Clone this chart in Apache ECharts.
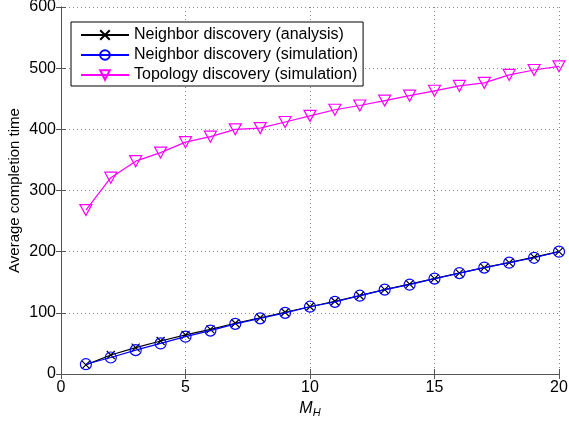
<!DOCTYPE html>
<html>
<head>
<meta charset="utf-8">
<script src="https://cdn.jsdelivr.net/npm/echarts@6/dist/echarts.min.js"></script>
<style>
  html, body { margin: 0; padding: 0; background: #fff; }
  #chart { width: 569px; height: 424px; }
</style>
</head>
<body>
<div id="chart"></div>
<script>
// 数据
var xValues = [1, 2, 3, 4, 5, 6, 7, 8, 9, 10, 11, 12, 13, 14, 15, 16, 17, 18, 19, 20];
var analysisValues = [15, 31, 43, 54, 64, 73, 83, 92, 101, 110, 119, 128, 138, 147, 156, 165, 174, 182, 191, 200];
var simulationValues = [16, 27, 39, 50, 61, 71, 82, 91, 100, 110, 118, 128, 138, 146, 156, 165, 174, 182, 190, 200];
var topologyValues = [268, 321, 348, 362, 379, 388, 400, 402, 412, 422, 432, 439, 447, 455, 463, 471, 476, 489, 497, 503];
var seriesNames = ['Neighbor discovery (analysis)', 'Neighbor discovery (simulation)', 'Topology discovery (simulation)'];

function pairs(vals) {
    return xValues.map(function (x, i) { return [x, vals[i]]; });
}

var font = 'Liberation Sans, Arial, Helvetica, sans-serif';
var chart = echarts.init(document.getElementById('chart'));

var dotted = { show: true, lineStyle: { color: '#888', type: [1, 3], width: 1 } };
var axisLineStyle = { show: true, lineStyle: { color: '#555', width: 1 } };
var tickStyle = { show: true, inside: true, length: 5, lineStyle: { color: '#555' } };

option = {
    animation: false,
    backgroundColor: '#fff',
    textStyle: { fontFamily: font },
    grid: { left: 61, right: 10, top: 7, bottom: 50, containLabel: false, outerBoundsMode: 'none' },
    legend: {
        orient: 'vertical',
        left: 71,
        top: 22,
        itemWidth: 48,
        itemHeight: 12,
        itemGap: 4,
        padding: [5, 5, 3, 9],
        borderColor: '#000',
        borderWidth: 1,
        backgroundColor: '#fff',
        textStyle: { fontFamily: font, fontSize: 16, color: '#000', padding: [0, 0, 0, 0] },
        data: seriesNames
    },
    xAxis: [{
        type: 'value',
        min: 0, max: 20, interval: 5,
        position: 'bottom',
        axisLine: axisLineStyle,
        axisTick: tickStyle,
        axisLabel: { fontSize: 16, color: '#000', margin: 6, fontFamily: font },
        splitLine: dotted,
        name: '{m|M}{s|H}',
        nameLocation: 'middle',
        nameGap: 23,
        nameTextStyle: {
            rich: {
                m: { fontSize: 16, fontStyle: 'italic', color: '#000', fontFamily: font },
                s: { fontSize: 11, fontStyle: 'italic', color: '#000', fontFamily: font, verticalAlign: 'bottom', padding: [9, 0, 0, 0] }
            }
        }
    }, {
        type: 'value',
        min: 0, max: 20, interval: 5,
        position: 'top',
        axisLine: axisLineStyle,
        axisTick: tickStyle,
        axisLabel: { show: false },
        splitLine: { show: false }
    }],
    yAxis: [{
        type: 'value',
        min: 0, max: 600, interval: 100,
        position: 'left',
        axisLine: axisLineStyle,
        axisTick: tickStyle,
        axisLabel: { fontSize: 16, color: '#000', margin: 5, fontFamily: font },
        splitLine: dotted,
        name: 'Average completion time',
        nameLocation: 'middle',
        nameMoveOverlap: false,
        nameGap: 39,
        nameTextStyle: { fontSize: 15, color: '#000', fontFamily: font }
    }, {
        type: 'value',
        min: 0, max: 600, interval: 100,
        position: 'right',
        axisLine: axisLineStyle,
        axisTick: tickStyle,
        axisLabel: { show: false },
        splitLine: { show: false }
    }],
    series: [{
        name: seriesNames[0],
        type: 'line',
        data: pairs(analysisValues),
        symbol: 'path://M0,0L10,10M10,0L0,10',
        symbolSize: 8,
        lineStyle: { color: '#000', width: 1.2 },
        itemStyle: { color: '#000', borderColor: '#000', borderWidth: 1.2 },
        z: 3
    }, {
        name: seriesNames[1],
        type: 'line',
        data: pairs(simulationValues),
        symbol: 'circle',
        symbolSize: 11,
        lineStyle: { color: '#0000ff', width: 1.2 },
        itemStyle: { color: 'rgba(0,0,0,0)', borderColor: '#0000ff', borderWidth: 1.2 },
        z: 4
    }, {
        name: seriesNames[2],
        type: 'line',
        data: pairs(topologyValues),
        symbol: 'triangle',
        symbolRotate: 180,
        symbolSize: [12, 11],
        lineStyle: { color: '#ff00ff', width: 1.2 },
        itemStyle: { color: 'rgba(0,0,0,0)', borderColor: '#ff00ff', borderWidth: 1.2 },
        z: 3
    }]
};
chart.setOption(option);
</script>
</body>
</html>
